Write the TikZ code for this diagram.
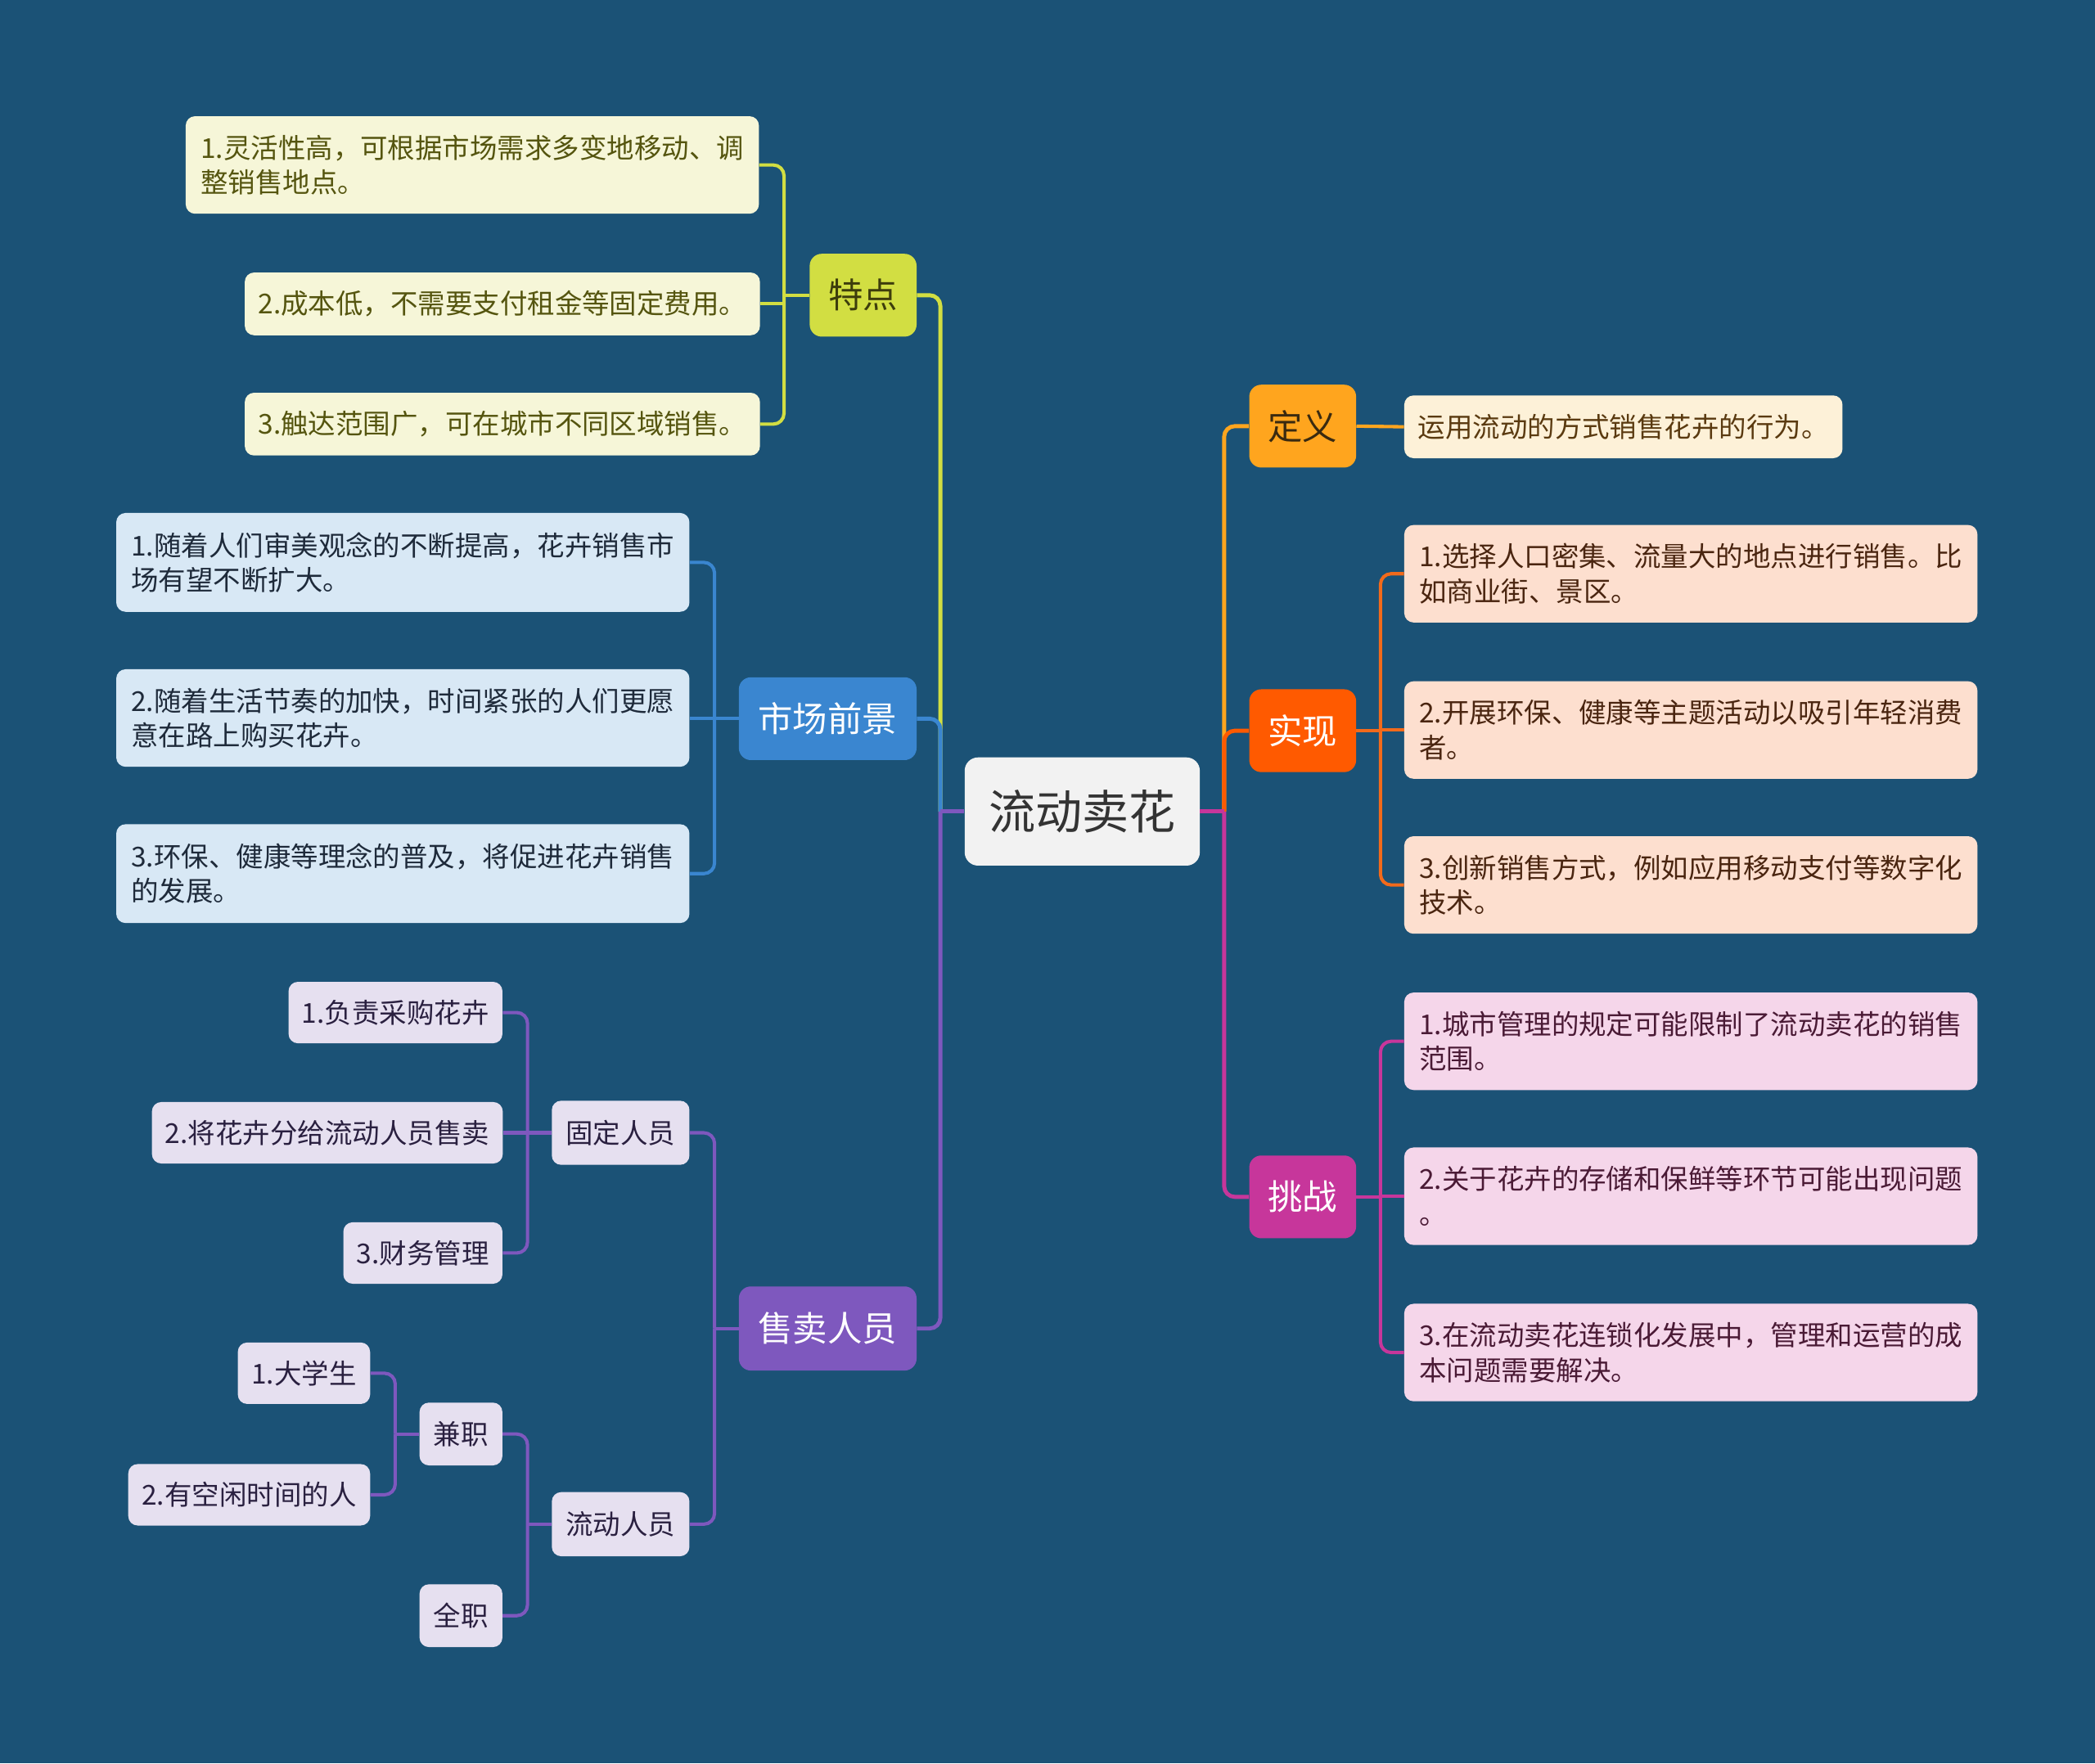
\documentclass[tikz,border=0pt]{standalone}
\usepackage{fontspec}
\setmainfont{Noto Sans CJK SC}
\usetikzlibrary{calc}
\definecolor{bg}{HTML}{1B5276}
\definecolor{teF}{HTML}{D2DE42}
\definecolor{teL}{HTML}{F6F6D8}
\definecolor{teT}{HTML}{55550F}
\definecolor{teN}{HTML}{3D3D0C}
\definecolor{scF}{HTML}{3A86D0}
\definecolor{scL}{HTML}{D8E8F5}
\definecolor{scT}{HTML}{1E2A3A}
\definecolor{smF}{HTML}{7E58BE}
\definecolor{smL}{HTML}{E6E0F0}
\definecolor{smT}{HTML}{2A2040}
\definecolor{dyF}{HTML}{FFA51E}
\definecolor{dyL}{HTML}{FDF1D8}
\definecolor{dyT}{HTML}{5A3A10}
\definecolor{dyN}{HTML}{3A2A10}
\definecolor{sxF}{HTML}{FF5A00}
\definecolor{sxC}{HTML}{F26A1B}
\definecolor{sxL}{HTML}{FDDFCF}
\definecolor{sxT}{HTML}{4A2510}
\definecolor{tzF}{HTML}{C7369B}
\definecolor{tzL}{HTML}{F5D6EA}
\definecolor{tzT}{HTML}{4A1A35}
\definecolor{ctF}{HTML}{F2F2F2}
\definecolor{ctT}{HTML}{333333}
\begin{document}
\begin{tikzpicture}[x=1pt,y=-1pt,
  box/.style={rounded corners=7pt, inner xsep=10pt, inner ysep=0pt, anchor=center},
  leaf/.style={box, align=left, font=\fontsize{20.5}{26}\selectfont},
  lone/.style={box, rounded corners=9pt, font=\fontsize{26}{30}\selectfont, minimum width=80pt, minimum height=62pt},
  conn/.style={line width=3pt, rounded corners=8pt},
  conn2/.style={line width=2.5pt, rounded corners=8pt},
  flat/.style={line width=2.5pt}
]
\fill[bg] (0,0) rectangle (1568,1320);
\useasboundingbox (0,0) rectangle (1568,1320);

% center
\node[box, rounded corners=10pt, fill=ctF, text=ctT, font=\fontsize{35}{40}\selectfont, minimum width=176pt, minimum height=81pt] (C) at (810,607.5) {流动卖花};

% level one
\node[lone, fill=teF, text=teN] (TE) at (646,221) {特点};
\node[lone, fill=scF, text=white, minimum width=133pt] (SC) at (619.5,538) {市场前景};
\node[lone, fill=smF, text=white, minimum width=133pt, minimum height=63pt] (SM) at (619.5,994.5) {售卖人员};
\node[lone, fill=dyF, text=dyN] (DY) at (975,319) {定义};
\node[lone, fill=sxF, text=white] (SX) at (975,547) {实现};
\node[lone, fill=tzF, text=white] (TZ) at (975,896) {挑战};

% 特点 leaves
\node[leaf, fill=teL, text=teT, minimum width=429pt, minimum height=73pt] (T1) at (353.5,123.5) {1.灵活性高，可根据市场需求多变地移动、调\\整销售地点。};
\node[leaf, fill=teL, text=teT, minimum width=384pt, minimum height=47pt] (T2) at (376,227.5) {2.成本低，不需要支付租金等固定费用。};
\node[leaf, fill=teL, text=teT, minimum width=384pt, minimum height=47pt] (T3) at (376,317.5) {3.触达范围广，可在城市不同区域销售。};

% 市场前景 leaves
\node[leaf, fill=scL, text=scT, minimum width=429pt, minimum height=74pt] (M1) at (301.5,421) {1.随着人们审美观念的不断提高，花卉销售市\\场有望不断扩大。};
\node[leaf, fill=scL, text=scT, minimum width=429pt, minimum height=73pt] (M2) at (301.5,537.5) {2.随着生活节奏的加快，时间紧张的人们更愿\\意在路上购买花卉。};
\node[leaf, fill=scL, text=scT, minimum width=429pt, minimum height=74pt] (M3) at (301.5,654) {3.环保、健康等理念的普及，将促进花卉销售\\的发展。};

% 售卖人员 subtree
\node[leaf, fill=smL, text=smT, minimum width=103pt, minimum height=48pt] (F) at (464.5,848) {固定人员};
\node[leaf, fill=smL, text=smT, minimum width=103pt, minimum height=48pt] (LD) at (464.5,1141) {流动人员};
\node[leaf, fill=smL, text=smT, minimum width=160pt, minimum height=46pt] (F1) at (296,758) {1.负责采购花卉};
\node[leaf, fill=smL, text=smT, minimum width=262pt, minimum height=46pt] (F2) at (245,848) {2.将花卉分给流动人员售卖};
\node[leaf, fill=smL, text=smT, minimum width=119pt, minimum height=46pt] (F3) at (316.5,938) {3.财务管理};
\node[leaf, fill=smL, text=smT, minimum width=62pt, minimum height=47pt, inner xsep=6pt] (J) at (345,1073.5) {兼职};
\node[leaf, fill=smL, text=smT, minimum width=62pt, minimum height=47pt, inner xsep=6pt] (Q) at (345,1209.5) {全职};
\node[leaf, fill=smL, text=smT, minimum width=99pt, minimum height=46pt] (J1) at (227.5,1028) {1.大学生};
\node[leaf, fill=smL, text=smT, minimum width=181pt, minimum height=46pt] (J2) at (186.5,1119) {2.有空闲时间的人};

% right leaves
\node[leaf, fill=dyL, text=dyT, minimum width=328pt, minimum height=47pt] (D1) at (1215,319.5) {运用流动的方式销售花卉的行为。};
\node[leaf, fill=sxL, text=sxT, minimum width=429pt, minimum height=73pt] (S1) at (1265.5,429.5) {1.选择人口密集、流量大的地点进行销售。比\\如商业街、景区。};
\node[leaf, fill=sxL, text=sxT, minimum width=429pt, minimum height=73pt] (S2) at (1265.5,546.5) {2.开展环保、健康等主题活动以吸引年轻消费\\者。};
\node[leaf, fill=sxL, text=sxT, minimum width=429pt, minimum height=73pt] (S3) at (1265.5,662.5) {3.创新销售方式，例如应用移动支付等数字化\\技术。};
\node[leaf, fill=tzL, text=tzT, minimum width=429pt, minimum height=73pt] (C1) at (1265.5,779.5) {1.城市管理的规定可能限制了流动卖花的销售\\范围。};
\node[leaf, fill=tzL, text=tzT, minimum width=429pt, minimum height=73pt] (C2) at (1265.5,895.5) {2.关于花卉的存储和保鲜等环节可能出现问题\\。};
\node[leaf, fill=tzL, text=tzT, minimum width=429pt, minimum height=73pt] (C3) at (1265.5,1012.5) {3.在流动卖花连锁化发展中，管理和运营的成\\本问题需要解决。};

% bus coordinates
\coordinate (LB) at ($(C.west)+(-18pt,0pt)$);
\coordinate (RB) at ($(C.east)+(18pt,0pt)$);
\coordinate (TB) at ($(TE.west)+(-19pt,0pt)$);
\coordinate (MB) at ($(SC.west)+(-18pt,0pt)$);
\coordinate (SB) at ($(SM.west)+(-18pt,0pt)$);
\coordinate (FB) at ($(F.west)+(-18pt,0pt)$);
\coordinate (LDB) at ($(LD.west)+(-18pt,0pt)$);
\coordinate (JB) at ($(J.west)+(-18pt,0pt)$);
\coordinate (XB) at ($(SX.east)+(18pt,0pt)$);
\coordinate (ZB) at ($(TZ.east)+(18pt,0pt)$);

% main connectors, left
\draw[conn, teF] (TE.east) -| (LB);
\draw[conn, scF] (SC.east) -| (LB);
\draw[conn, smF] (SM.east) -| (LB);
\draw[conn, smF] (LB) -- (C.west);
% main connectors, right
\draw[conn, dyF] (DY.west) -| (RB);
\draw[conn, sxF] (SX.west) -| (RB);
\draw[conn, tzF] (TZ.west) -| (RB);
\draw[conn, tzF] (C.east) -- (RB);

% 特点 group
\draw[conn2, teF] (T1.east) -| (TB);
\draw[flat, teF] (T2.east) -| (TB);
\draw[conn2, teF] (T3.east) -| (TB);
\draw[flat, teF] (TB) -- (TE.west);
% 市场前景 group
\draw[conn2, scF] (M1.east) -| (MB);
\draw[flat, scF] (M2.east) -| (MB);
\draw[conn2, scF] (M3.east) -| (MB);
\draw[flat, scF] (MB) -- (SC.west);
% 售卖人员 group
\draw[conn2, smF] (F.east) -| (SB);
\draw[conn2, smF] (LD.east) -| (SB);
\draw[flat, smF] (SB) -- (SM.west);
\draw[conn2, smF] (F1.east) -| (FB);
\draw[flat, smF] (F2.east) -| (FB);
\draw[conn2, smF] (F3.east) -| (FB);
\draw[flat, smF] (FB) -- (F.west);
\draw[conn2, smF] (J.east) -| (LDB);
\draw[conn2, smF] (Q.east) -| (LDB);
\draw[flat, smF] (LDB) -- (LD.west);
\draw[conn2, smF] (J1.east) -| (JB);
\draw[conn2, smF] (J2.east) -| (JB);
\draw[flat, smF] (JB) -- (J.west);
% 定义
\draw[flat, dyF] (DY.east) -- (D1.west);
% 实现 group
\draw[conn2, sxC] (S1.west) -| (XB);
\draw[flat, sxC] (S2.west) -| (XB);
\draw[conn2, sxC] (S3.west) -| (XB);
\draw[flat, sxC] (XB) -- (SX.east);
% 挑战 group
\draw[conn2, tzF] (C1.west) -| (ZB);
\draw[flat, tzF] (C2.west) -| (ZB);
\draw[conn2, tzF] (C3.west) -| (ZB);
\draw[flat, tzF] (ZB) -- (TZ.east);
\end{tikzpicture}
\end{document}
